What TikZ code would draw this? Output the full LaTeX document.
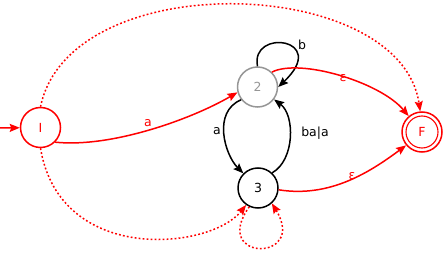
\documentclass[tikz,border=0pt]{standalone}
\usepackage{fontspec}
\setmainfont{DejaVu Sans}
\usetikzlibrary{arrows.meta}
\definecolor{autred}{RGB}{255,0,0}
\definecolor{autgray}{RGB}{150,150,150}
\begin{document}
\begin{tikzpicture}[x=1pt,y=-1pt,
  font=\fontsize{12.5}{15}\selectfont,
  every path/.style={line width=1.5pt},
  state/.style={circle,draw,minimum size=40pt,inner sep=0pt,line width=1.5pt},
  trans/.style={-{Stealth[length=10pt,width=8pt,inset=1.5pt]}},
  dotline/.style={dash pattern=on 1.8pt off 2.2pt},
  lbl/.style={inner sep=0pt}]
\useasboundingbox (0,0) rectangle (446,256);

% states
\node[state,draw=autred,text=autred] (I) at (40.5,127.5) {I};
\node[state,draw=autgray,text=autgray] (q2) at (257.5,87) {2};
\node[state] (q3) at (258,188) {3};
\node[state,draw=autred,text=autred] (F) at (422,132) {F};
\draw[autred,line width=1.1pt] (F.center) circle (16pt);

% initial arrow
\coordinate (start) at (0,128);
\draw[trans,autred] (start) -- (I);

% transitions
\draw[trans,autred] (I.-45) .. controls (110,148) and (190,120) .. (q2.195);
\node[lbl,text=autred] (la) at (148,123) {a};

\draw[trans] (q2.90) .. controls (250,28) and (330,38) .. (q2.east);
\node[lbl] (lb) at (302,45) {b};

\draw[trans,autred] (q2.46) .. controls (300,58) and (380,82) .. (F.130);
\node[lbl,text=autred] (le1) at (343,78) {ε};

\draw[trans] (q2.218) .. controls (212,112) and (225,155) .. (q3.135);
\node[lbl] (la2) at (217,131) {a};

\draw[trans] (q3.47) .. controls (295,160) and (295,115) .. (q2.-37);
\node[lbl] (lba) at (315,133) {ba|a};

\draw[trans,autred] (q3.-5) .. controls (330,198) and (370,172) .. (F.220);
\node[lbl,text=autred] (le2) at (352,176) {ε};

% dotted transitions
\draw[trans,autred,dotline] (I.90) .. controls (70,-35) and (400,-25) .. (F.95);
\draw[trans,autred,dotline] (I.-90) .. controls (60,265) and (210,250) .. (q3.235);
\draw[trans,autred,dotline] (q3.245) .. controls (210,262) and (308,262) .. (q3.-48);
\end{tikzpicture}
\end{document}
